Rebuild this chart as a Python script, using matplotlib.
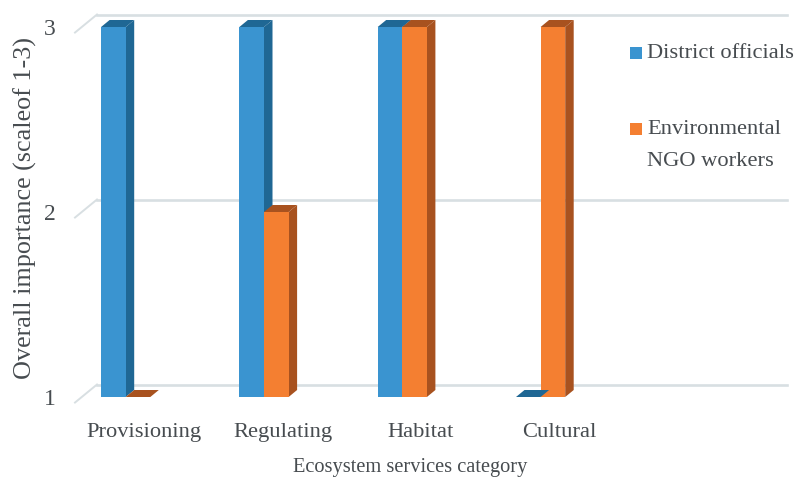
import numpy as np
import matplotlib
matplotlib.use("Agg")
import matplotlib.pyplot as plt
from matplotlib.patches import Polygon, Rectangle

# --------------------
# Data
# --------------------
categories = ["Provisioning", "Regulating", "Habitat", "Cultural"]
district_officials = [3, 3, 3, 1]
ngo_workers = [1, 2, 3, 3]
y_ticks = [1, 2, 3]

# --------------------
# Layout (pixels on a 797x479 canvas)
# --------------------
W, H = 797, 479
left, right, top, bottom = 75, 787, 15, 397
x0_px, x_step_px = 125.7, 138.3
y_unit_px = 185.0
bar_w = 24.6 / x_step_px
depth_x = 8.5 / x_step_px
depth_y = 7 / y_unit_px
wall_y = 12.5 / y_unit_px
wall_x = 97

text_col = "#474c50"
grid_col = "#d8dfe2"
blue, blue_dark = "#3a94d0", "#1f6794"
orange, orange_dark = "#f47f31", "#a8521f"

plt.rcParams["font.family"] = "Liberation Serif"

fig = plt.figure(figsize=(W / 100, H / 100), dpi=100)
ax = fig.add_axes([left / W, 1 - bottom / H, (right - left) / W, (bottom - top) / H])
ax.set_xlim((left - x0_px) / x_step_px, (right - x0_px) / x_step_px)
ax.set_ylim(1, 1 + (bottom - top) / y_unit_px)
for s in ax.spines.values():
    s.set_visible(False)


def draw_bars(x_left, values, face, dark):
    ax.bar(x_left, np.array(values) - 1, bottom=1, width=bar_w, align="edge",
           color=face, zorder=3)
    for x, v in zip(x_left, values):
        # side and top faces of the 3d column
        side = [(x + bar_w, 1), (x + bar_w + depth_x, 1 + depth_y),
                (x + bar_w + depth_x, v + depth_y), (x + bar_w, v)]
        cap = [(x, v), (x + depth_x, v + depth_y),
               (x + bar_w + depth_x, v + depth_y), (x + bar_w, v)]
        ax.add_patch(Polygon(side, color=dark, lw=0, zorder=2.5, clip_on=False))
        ax.add_patch(Polygon(cap, color=dark, lw=0, zorder=3.5, clip_on=False))


# back wall gridlines plus the short slanted pieces on the left
x_start = (wall_x - x0_px) / x_step_px
x_end = (right - x0_px) / x_step_px
x_stub = (left - x0_px) / x_step_px
for v in y_ticks:
    ax.plot([x_start, x_end], [v + wall_y, v + wall_y], color=grid_col, lw=1.9,
            zorder=1, clip_on=False)
    ax.plot([x_stub, x_start], [v - 0.03, v + wall_y], color=grid_col, lw=1.4,
            zorder=1, clip_on=False)

xs = np.arange(len(categories))
draw_bars(xs - bar_w, district_officials, blue, blue_dark)
draw_bars(xs, ngo_workers, orange, orange_dark)

# axes text
ax.set_xticks(xs + 0.135)
ax.set_xticklabels(categories, fontsize=16.2, color=text_col)
ax.set_yticks(y_ticks)
ax.set_yticklabels([str(v) for v in y_ticks], fontsize=17, color=text_col)
ax.tick_params(axis="both", length=0)
ax.tick_params(axis="x", pad=19)
ax.tick_params(axis="y", pad=14)
ax.set_xlabel("Ecosystem services category", fontsize=14.7, color=text_col)
ax.xaxis.set_label_coords((410 - left) / (right - left), -(458 - bottom) / (bottom - top))
ax.set_ylabel("Overall importance (scaleof 1-3)", fontsize=18.8, color=text_col)
ax.yaxis.set_label_coords((37 - left) / (right - left), (bottom - 208) / (bottom - top))

# legend, drawn by hand so the swatch lines up with the first text line
series_names = ["District officials", "Environmental\nNGO workers"]
series_cols = [blue, orange]
legend_y = [53, 129]
for name, col, py in zip(series_names, series_cols, legend_y):
    fig.add_artist(Rectangle((630 / W, 1 - (py + 6) / H), 12 / W, 12 / H,
                             transform=fig.transFigure, color=col, lw=0))
    fig.text(647 / W, 1 - (py + 1) / H, name.split("\n")[0], fontsize=16.2, color=text_col,
             va="center", ha="left")
    if "\n" in name:
        fig.text(647 / W, 1 - (py + 32) / H, name.split("\n")[1], fontsize=16.2,
                 color=text_col, va="center", ha="left")

fig.savefig("out.png", dpi=100)
